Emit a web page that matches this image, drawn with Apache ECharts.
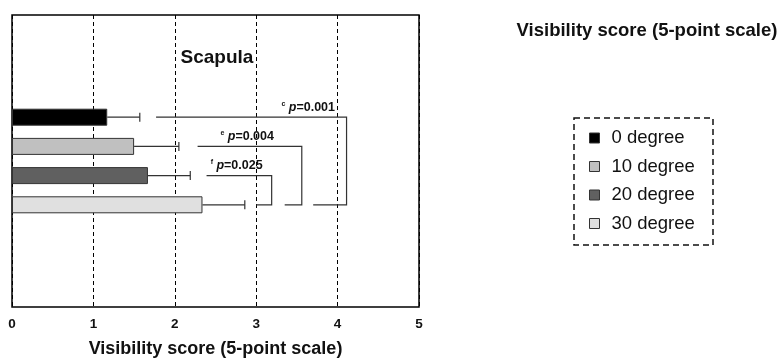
<!DOCTYPE html>
<html>
<head>
<meta charset="utf-8">
<script src="https://cdn.jsdelivr.net/npm/echarts@6/dist/echarts.min.js"></script>
<style>
html,body{margin:0;padding:0;background:#fff;}
#main{width:781px;height:358px;}
</style>
</head>
<body>
<div id="main"></div>
<script>
// ---- data ----
const rowSlots = ['', '', '', 'r0', 'r1', 'r2', 'r3', '', '', ''];
const seriesNames = ['0 degree', '10 degree', '20 degree', '30 degree'];
const seriesRows = [3, 4, 5, 6];
const means = [1.17, 1.50, 1.67, 2.34];
const sds = [0.40, 0.55, 0.52, 0.52];
const xTicks = [0, 1, 2, 3, 4, 5];
// brackets: [startX, endX, lowerStartX, fromRow, toRow]
const bracketLines = [
  [1.77, 4.11, 3.70, 3, 6],
  [2.28, 3.56, 3.35, 4, 6],
  [2.39, 3.19, 3.00, 5, 6]
];
const bracketSup = ['c', 'e', 'f'];
const bracketP = ['0.001', '0.004', '0.025'];
const bracketLabelX = [3.64, 2.89, 2.76];

const colors = ['#000000', '#c0c0c0', '#606060', '#e0e0e0'];
const FONT = 'Arial, "Liberation Sans", sans-serif';

const chart = echarts.init(document.getElementById('main'));

const barSeries = seriesNames.map((name, i) => {
  const data = rowSlots.map((_, r) => r === seriesRows[i] ? means[i] : '-');
  return {
    name: name,
    type: 'bar',
    data: data,
    barWidth: 17,
    barGap: '-100%',
    itemStyle: { color: colors[i], borderColor: '#333', borderWidth: 1 },
    z: 3
  };
});

const errData = means.map((m, i) => [m, seriesRows[i], m + sds[i]]);
const errSeries = {
  type: 'custom',
  name: 'err',
  data: errData,
  encode: { x: [0, 2], y: 1 },
  z: 4,
  renderItem: function (params, api) {
    const a = api.coord([api.value(0), api.value(1)]);
    const b = api.coord([api.value(2), api.value(1)]);
    const st = { stroke: '#333', lineWidth: 1.2 };
    return {
      type: 'group',
      children: [
        { type: 'line', shape: { x1: a[0], y1: a[1], x2: b[0], y2: b[1] }, style: st },
        { type: 'line', shape: { x1: b[0], y1: b[1] - 4.5, x2: b[0], y2: b[1] + 4.5 }, style: st }
      ]
    };
  }
};

const brData = bracketLines.map((b, i) => [b[0], b[1], b[2], b[3], b[4], bracketLabelX[i]]);
const brSeries = {
  type: 'custom',
  name: 'brackets',
  data: brData,
  encode: { x: [0, 1, 2, 5], y: [3, 4] },
  z: 5,
  renderItem: function (params, api) {
    const i = params.dataIndex;
    const p1 = api.coord([api.value(0), api.value(3)]);
    const p2 = api.coord([api.value(1), api.value(3)]);
    const p3 = api.coord([api.value(1), api.value(4)]);
    const p4 = api.coord([api.value(2), api.value(4)]);
    const lp = api.coord([api.value(5), api.value(3)]);
    const st = { stroke: '#333', lineWidth: 1.2, fill: null };
    return {
      type: 'group',
      children: [
        { type: 'polyline', shape: { points: [p1, p2, p3, p4] }, style: st },
        {
          type: 'text',
          x: lp[0], y: lp[1] - 3,
          style: {
            text: '{s|' + bracketSup[i] + '} {p|p}{v|=' + bracketP[i] + '}',
            align: 'center', verticalAlign: 'bottom',
            rich: {
              s: { fontSize: 7, fontWeight: 'bold', fontFamily: FONT, fill: '#111', verticalAlign: 'top', lineHeight: 14 },
              p: { fontSize: 12.5, fontWeight: 'bold', fontStyle: 'italic', fontFamily: FONT, fill: '#111', lineHeight: 14 },
              v: { fontSize: 12.5, fontWeight: 'bold', fontFamily: FONT, fill: '#111', lineHeight: 14 }
            }
          }
        }
      ]
    };
  }
};

const option = {
  animation: false,
  backgroundColor: '#fff',
  grid: {
    left: 12, right: 362, top: 15, bottom: 51,
    containLabel: false, outerBoundsMode: 'none',
    show: true, borderColor: '#000', borderWidth: 1.5, backgroundColor: 'transparent'
  },
  xAxis: {
    type: 'value', min: xTicks[0], max: xTicks[xTicks.length - 1], interval: 1,
    axisLine: { show: false }, axisTick: { show: false },
    splitLine: { show: true, lineStyle: { color: '#000', type: [4, 3], width: 1 } },
    axisLabel: { color: '#111', fontFamily: FONT, fontWeight: 'bold', fontSize: 13.5, margin: 10 },
    name: 'Visibility score (5-point scale)',
    nameLocation: 'middle', nameGap: 33,
    nameTextStyle: { color: '#111', fontFamily: FONT, fontWeight: 'bold', fontSize: 18 }
  },
  yAxis: {
    type: 'category', data: rowSlots, inverse: true,
    axisLine: { show: false }, axisTick: { show: false }, axisLabel: { show: false },
    splitLine: { show: false }
  },
  legend: {
    data: seriesNames,
    orient: 'vertical',
    left: 589, top: 128, padding: 0,
    itemWidth: 10, itemHeight: 10, itemGap: 8.5,
    icon: 'rect',
    itemStyle: { borderColor: '#333', borderWidth: 1 },
    textStyle: { color: '#111', fontFamily: FONT, fontSize: 18.5, lineHeight: 20, padding: [0, 0, 0, 7] }
  },
  graphic: [
    {
      type: 'rect', x: 574, y: 118,
      shape: { x: 0, y: 0, width: 139, height: 127 },
      style: { fill: null, stroke: '#111', lineWidth: 1.5, lineDash: [6, 4] }
    }
  ],
  title: [
    {
      text: 'Scapula', left: 217, top: 48, textAlign: 'center', padding: 0,
      textStyle: { color: '#111', fontFamily: FONT, fontWeight: 'bold', fontSize: 19 }
    },
    {
      text: 'Visibility score (5-point scale)', left: 647, top: 21, textAlign: 'center', padding: 0,
      textStyle: { color: '#111', fontFamily: FONT, fontWeight: 'bold', fontSize: 18.5 }
    }
  ],
  series: barSeries.concat([errSeries, brSeries])
};

chart.setOption(option);
</script>
</body>
</html>
